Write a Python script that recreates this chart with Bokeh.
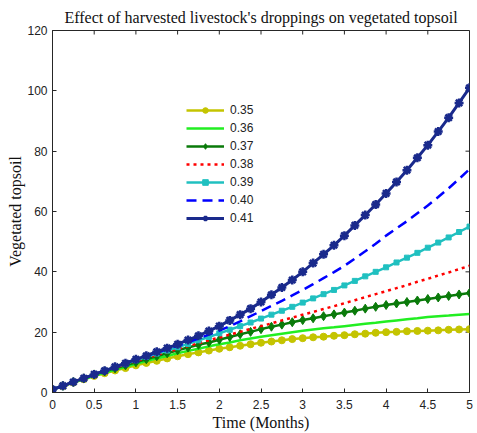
import math
from bokeh.plotting import figure
from bokeh.models import Range1d, FixedTicker, Legend, LegendItem
from bokeh.embed import file_html
from bokeh.resources import INLINE

time = [i * 0.125 for i in range(41)]

s035 = [1.0, 2.1, 3.3, 4.4, 5.5, 6.4, 7.3, 8.1, 9.0, 9.8, 10.5, 11.3, 12.0, 12.7, 13.3, 13.9, 14.5, 15.0, 15.5, 16.0, 16.5,
        16.9, 17.3, 17.7, 18.0, 18.3, 18.5, 18.8, 19.0, 19.3, 19.5, 19.8, 20.0, 20.1, 20.3, 20.4, 20.5, 20.6, 20.8, 20.9, 21.0]
s036 = [1.0, 2.1, 3.3, 4.4, 5.5, 6.5, 7.5, 8.5, 9.5, 10.4, 11.3, 12.1, 13.0, 13.8, 14.5, 15.3, 16.0, 16.6, 17.3, 17.9, 18.5,
        19.0, 19.5, 20.0, 20.5, 20.9, 21.3, 21.6, 22.0, 22.4, 22.8, 23.1, 23.5, 23.9, 24.3, 24.6, 25.0, 25.3, 25.5, 25.8, 26.0]
s037 = [1.0, 2.2, 3.5, 4.7, 6.0, 7.0, 8.0, 9.0, 10.0, 11.0, 12.0, 13.0, 14.0, 14.9, 15.8, 16.6, 17.5, 18.4, 19.3, 20.1, 21.0,
        21.8, 22.5, 23.3, 24.0, 24.6, 25.3, 25.9, 26.5, 27.1, 27.8, 28.4, 29.0, 29.5, 30.0, 30.5, 31.0, 31.5, 32.0, 32.5, 33.0]
s038 = [1.0, 2.2, 3.5, 4.7, 6.0, 7.1, 8.2, 9.3, 10.4, 11.4, 12.4, 13.4, 14.4, 15.4, 16.3, 17.3, 18.2, 19.2, 20.1, 21.1, 22.0,
        22.9, 23.9, 24.8, 25.8, 26.7, 27.7, 28.6, 29.6, 30.6, 31.6, 32.6, 33.6, 34.6, 35.6, 36.7, 37.7, 38.8, 39.8, 40.9, 42.0]
s039 = [1.0, 2.2, 3.5, 4.7, 6.0, 7.2, 8.4, 9.5, 10.7, 11.8, 12.9, 13.9, 15.0, 16.1, 17.3, 18.4, 19.6, 20.8, 22.0, 23.2, 24.5,
        25.8, 27.1, 28.4, 29.8, 31.2, 32.6, 34.0, 35.5, 37.0, 38.5, 40.0, 41.5, 43.1, 44.7, 46.3, 48.0, 49.7, 51.4, 53.2, 55.0]
s040 = [1.0, 2.2, 3.5, 4.7, 6.0, 7.2, 8.5, 9.7, 11.0, 12.1, 13.2, 14.4, 15.5, 16.7, 17.9, 19.2, 20.5, 22.0, 23.6, 25.3, 27.0,
        28.7, 30.4, 32.2, 34.0, 35.9, 37.9, 39.9, 42.0, 44.4, 46.8, 49.3, 52.0, 54.4, 56.8, 59.4, 62.0, 64.8, 67.7, 70.8, 74.0]
s041 = [1.0, 2.2, 3.5, 4.7, 6.0, 7.2, 8.5, 9.7, 11.0, 12.2, 13.5, 14.7, 16.0, 17.4, 18.8, 20.4, 22.0, 23.9, 25.8, 27.8, 30.0,
        32.4, 34.8, 37.3, 40.0, 42.9, 45.8, 48.8, 52.0, 55.4, 58.8, 62.3, 66.0, 69.8, 73.7, 77.8, 82.0, 86.5, 91.1, 96.0, 101.0]

series_labels = ["0.35", "0.36", "0.37", "0.38", "0.39", "0.40", "0.41"]
x_ticks = [0, 0.5, 1, 1.5, 2, 2.5, 3, 3.5, 4, 4.5, 5]
x_tick_labels = ["0", "0.5", "1", "1.5", "2", "2.5", "3", "3.5", "4", "4.5", "5"]
y_ticks = [0, 20, 40, 60, 80, 100, 120]
x_min, x_max = 0, 5
y_min, y_max = 0, 120

p = figure(width=477, height=433, output_backend="svg", toolbar_location=None,
           x_range=Range1d(x_min, x_max), y_range=Range1d(y_min, y_max),
           min_border_left=52, min_border_right=8, min_border_top=30, min_border_bottom=41,
           x_axis_label="Time (Months)", y_axis_label="Vegetated topsoil",
           title="Effect of harvested livestock's droppings on vegetated topsoil")

p.title.align = "center"
p.title.text_font = "Liberation Serif"
p.title.text_font_size = "16px"
p.title.text_font_style = "normal"
p.title.text_color = "#111111"
p.title.offset = 0
p.title.standoff = 9

p.grid.visible = False
p.background_fill_color = "white"
p.border_fill_color = "white"
p.outline_line_color = "#262626"
p.outline_line_width = 1

p.xaxis.ticker = FixedTicker(ticks=x_ticks)
p.xaxis.major_label_overrides = {t: l for t, l in zip(x_ticks, x_tick_labels)}
p.yaxis.ticker = FixedTicker(ticks=y_ticks)
for ax in (p.xaxis[0], p.yaxis[0]):
    ax.major_tick_in = 4
    ax.major_tick_out = 0
    ax.minor_tick_line_color = None
    ax.axis_line_color = "#262626"
    ax.major_tick_line_color = "#262626"
    ax.major_label_text_font = "Liberation Sans"
    ax.major_label_text_font_size = "12px"
    ax.major_label_text_color = "#222222"
    ax.axis_label_text_font = "Liberation Serif"
    ax.axis_label_text_font_size = "16px"
    ax.axis_label_text_font_style = "normal"
    ax.axis_label_text_color = "#111111"
p.xaxis.major_label_standoff = 7
p.xaxis.axis_label_standoff = 2
p.yaxis.major_label_standoff = 5
p.yaxis.axis_label_standoff = 0

# inward ticks on the top and right edges of the box
p.ray(x=x_ticks, y=[y_max] * len(x_ticks), length=4, length_units="screen",
      angle=-math.pi / 2, line_color="#262626", line_width=1)
p.ray(x=[x_max] * len(y_ticks), y=y_ticks, length=4, length_units="screen",
      angle=math.pi, line_color="#262626", line_width=1)

items = []

# 0.35 yellow with circles
r1 = p.line(time, s035, line_color="#c4c400", line_width=2.5)
m1 = p.scatter(time, s035, marker="circle", size=7, fill_color="#c4c400", line_color="#c4c400")
items.append(LegendItem(label=series_labels[0], renderers=[r1, m1]))

# 0.36 bright green, no markers
r2 = p.line(time, s036, line_color="#22ee22", line_width=2.5)
items.append(LegendItem(label=series_labels[1], renderers=[r2]))

# 0.37 dark green with diamonds
r3 = p.line(time, s037, line_color="#0a7a0a", line_width=2.5)
m3 = p.scatter(time, s037, marker="diamond", size=9, fill_color="#0a7a0a", line_color="#0a7a0a")
items.append(LegendItem(label=series_labels[2], renderers=[r3, m3]))

# 0.38 red dotted
r4 = p.line(time, s038, line_color="#ff0000", line_width=2.5, line_dash="3 4")
m4 = p.scatter([], [], marker="circle", size=6, fill_color="#ff0000", line_color="#ff0000")
items.append(LegendItem(label=series_labels[3], renderers=[r4, m4]))

# 0.39 cyan with small squares
r5 = p.line(time, s039, line_color="#20c0c0", line_width=2.5)
m5 = p.scatter(time, s039, marker="square", size=5, fill_color="#20c0c0", line_color="#20c0c0")
items.append(LegendItem(label=series_labels[4], renderers=[r5, m5]))

# 0.40 blue dashed
r6 = p.line(time, s040, line_color="#0000ff", line_width=2.5, line_dash="10 6")
m6 = p.scatter([], [], marker="circle", size=6, fill_color="#0000ff", line_color="#0000ff")
items.append(LegendItem(label=series_labels[5], renderers=[r6, m6]))

# 0.41 navy with asterisks
r7 = p.line(time, s041, line_color="#1a2a8c", line_width=3)
m7 = p.scatter(time, s041, marker="asterisk", size=9, line_color="#1a2a8c", line_width=2.5)
items.append(LegendItem(label=series_labels[6], renderers=[r7, m7]))

legend = Legend(items=items, location=(134, 167))
p.add_layout(legend, "center")
legend.border_line_color = None
legend.background_fill_color = "white"
legend.background_fill_alpha = 1
legend.label_text_font = "Liberation Sans"
legend.label_text_font_size = "12px"
legend.label_text_color = "#222222"
legend.glyph_width = 38
legend.glyph_height = 14
legend.label_height = 14
legend.spacing = 4
legend.padding = 4
legend.margin = 0
legend.label_standoff = 6

open("out.html", "w").write(file_html(p, INLINE))
